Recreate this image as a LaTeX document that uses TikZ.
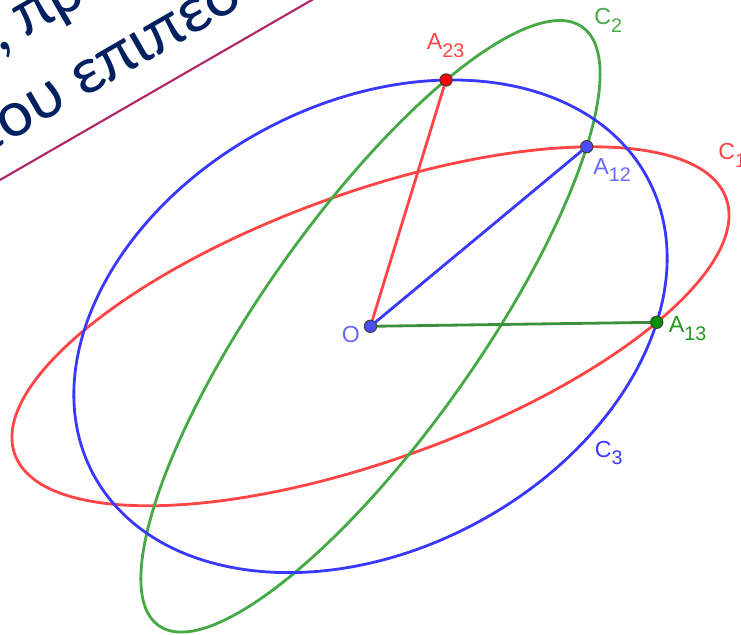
\documentclass[tikz,border=0pt]{standalone}
\usepackage{fontspec}
\setmainfont{Liberation Sans}
\newfontfamily\titlefont{Carlito}
\usepackage{xcolor}
\definecolor{ellred}{HTML}{FF4545}
\definecolor{ellgreen}{HTML}{45AA45}
\definecolor{ellblue}{HTML}{3838FF}
\definecolor{ptred}{HTML}{FF0000}
\definecolor{ptblue}{HTML}{4D4DFF}
\definecolor{ptgreen}{HTML}{009200}
\definecolor{lblblue}{HTML}{6868FF}
\definecolor{lblgreen}{HTML}{1E9A1E}
\definecolor{titlenavy}{HTML}{002060}
\definecolor{rulemagenta}{HTML}{B02468}
\usepackage{tikz}
\newcommand{\lsub}[1]{\raisebox{-4.5pt}{\fontsize{11.2}{13}\selectfont #1}}

\begin{document}
\begin{tikzpicture}[
  x=0.02cm, y=0.02cm,
  curve/.style={line width=1.6pt},
  seg/.style={line width=1.6pt},
  pt/.style={circle, draw=black!75, line width=0.6pt, minimum size=7pt, inner sep=0pt},
  lab/.style={anchor=base west, inner sep=0pt, font=\fontsize{13.2}{15}\selectfont},
  title/.style={anchor=base west, inner sep=0pt, rotate=30, text=titlenavy,
                font=\titlefont\fontsize{38}{45}\selectfont}
]
\useasboundingbox (0,0) rectangle (741,-635);
\clip (0,0) rectangle (741,-635);

\coordinate (ctr) at (370.5,-326.3);
\draw[curve, ellred, rotate around={19.8:(ctr)}] (ctr) ellipse [x radius=378, y radius=133.7];
\draw[curve, ellgreen, rotate around={54.7:(ctr)}] (ctr) ellipse [x radius=366.7, y radius=108.2];
\draw[curve, ellblue, rotate around={28:(ctr)}] (ctr) ellipse [x radius=314.2, y radius=223.4];

\node[pt, fill=ptblue] (O) at (ctr) {};
\node[pt, fill=ptred] (A23) at (446,-80) {};
\node[pt, fill=ptblue] (A12) at (586.7,-146.7) {};
\node[pt, fill=ptgreen] (A13) at (656.7,-322.3) {};

\draw[seg, ellred] (O) -- (A23);
\draw[seg, ellblue] (O) -- (A12);
\draw[seg, ellgreen!85!black] (O) -- (A13);

\node[lab, text=ellred] (lA23) at (426.5,-49.5) {A\lsub{23}};
\node[lab, text=lblblue] (lA12) at (593,-174) {A\lsub{12}};
\node[lab, text=lblgreen] (lA13) at (668.5,-332.5) {A\lsub{13}};
\node[lab, text=lblblue] (lO) at (341.5,-342) {O};
\node[lab, text=ellred] (lC1) at (718,-160) {C\lsub{1}};
\node[lab, text=ellgreen] (lC2) at (594,-25) {C\lsub{2}};
\node[lab, text=ellblue] (lC3) at (594.5,-457) {C\lsub{3}};

\draw[rulemagenta, line width=1.2pt] (-20,-191.5) -- (330,10.5);
\node[title] (ttl1) at (-1,-54) {, πρ};
\node[title] (ttl2) at (-14,-155) {του επιπέδου};
\end{tikzpicture}
\end{document}
